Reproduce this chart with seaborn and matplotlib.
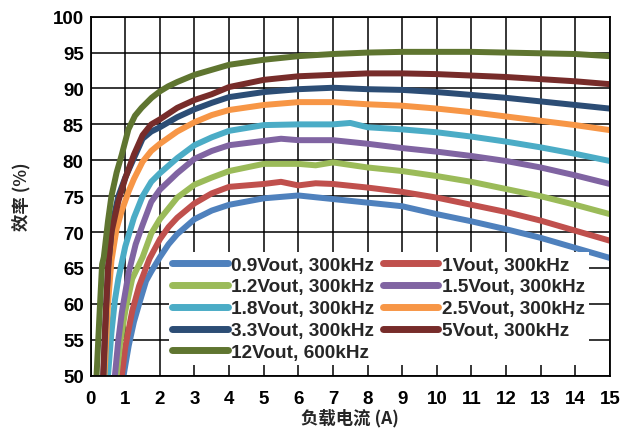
import numpy as np
import pandas as pd
import matplotlib
matplotlib.use("Agg")
import matplotlib.pyplot as plt
import seaborn as sns

# Efficiency (%) vs. load current (A) for each output setting
series_names = ["0.9Vout, 300kHz", "1Vout, 300kHz", "1.2Vout, 300kHz", "1.5Vout, 300kHz",
                "1.8Vout, 300kHz", "2.5Vout, 300kHz", "3.3Vout, 300kHz", "5Vout, 300kHz",
                "12Vout, 600kHz"]

x_09 = [0.95, 1.1, 1.25, 1.4, 1.6, 1.75, 2, 2.25, 2.5, 3, 3.5, 4, 5, 6, 7, 8, 9, 10, 11, 12, 13, 14, 15]
y_09 = [50, 54.2, 57.5, 60, 63.2, 64.5, 66.5, 68.3, 69.7, 71.8, 73, 73.8, 74.7, 75.1, 74.6, 74.1,
        73.6, 72.5, 71.5, 70.4, 69.2, 67.8, 66.4]

x_10 = [0.9, 1.0, 1.2, 1.4, 1.7, 2, 2.25, 2.5, 3, 3.5, 4, 5, 5.5, 6, 6.5, 7, 8, 9, 10, 11, 12, 13, 14, 15]
y_10 = [50, 54, 59, 62.5, 66.3, 69, 70.7, 72, 74, 75.4, 76.3, 76.7, 77.0, 76.5, 76.8, 76.7, 76.2,
        75.6, 74.8, 73.8, 72.8, 71.6, 70.2, 68.8]

x_12 = [0.75, 0.85, 1.0, 1.2, 1.5, 1.75, 2, 2.25, 2.5, 3, 3.5, 4, 5, 6, 6.5, 7, 8, 9, 10, 11, 12, 13, 14, 15]
y_12 = [50, 54.5, 59, 63.5, 66.5, 69.8, 71.8, 73.3, 74.8, 76.6, 77.6, 78.5, 79.5, 79.5, 79.3, 79.7,
        79.0, 78.5, 77.8, 77.0, 76.0, 75.0, 73.8, 72.5]

x_15 = [0.7, 0.8, 0.9, 1.1, 1.3, 1.5, 1.75, 2, 2.5, 3, 3.5, 4, 5, 5.5, 6, 7, 8, 9, 10, 11, 12, 13, 14, 15]
y_15 = [50, 55, 58.8, 64.4, 68.3, 71, 74.2, 75.9, 78.2, 80.2, 81.3, 82.1, 82.7, 83.0, 82.8, 82.8,
        82.3, 81.7, 81.2, 80.6, 79.9, 79.0, 77.9, 76.7]

x_18 = [0.5, 0.6, 0.7, 0.8, 1.0, 1.25, 1.5, 1.75, 2, 2.5, 3, 3.5, 4, 5, 6, 7, 7.5, 8, 9, 10, 11, 12, 13, 14, 15]
y_18 = [50, 56, 60.5, 63.5, 68, 72, 75, 77.0, 78.2, 80.3, 82.1, 83.2, 84.1, 84.9, 85.0, 85.0, 85.2,
        84.6, 84.3, 83.9, 83.3, 82.6, 81.8, 80.9, 79.9]

x_25 = [0.4, 0.5, 0.6, 0.75, 0.9, 1.1, 1.25, 1.5, 1.75, 2, 2.5, 3, 3.5, 4, 5, 6, 7, 8, 9, 10, 11, 12, 13, 14, 15]
y_25 = [50, 60, 66, 70.5, 73, 75.7, 77.4, 79.8, 81.3, 82.3, 84, 85.3, 86.3, 87, 87.7, 88.1, 88.1,
        87.8, 87.6, 87.2, 86.7, 86.1, 85.5, 84.9, 84.2]

x_33 = [0.37, 0.45, 0.52, 0.62, 0.8, 1.0, 1.25, 1.5, 1.75, 2, 2.5, 3, 3.5, 4, 5, 6, 7, 8, 9, 10, 11, 12, 13, 14, 15]
y_33 = [50, 60, 66, 71, 75, 77.6, 80.3, 83, 84, 84.6, 86, 87.1, 88, 88.8, 89.5, 89.9, 90.1, 89.9,
        89.8, 89.5, 89.1, 88.7, 88.2, 87.7, 87.2]

x_50 = [0.36, 0.42, 0.5, 0.6, 0.8, 1.0, 1.25, 1.5, 1.75, 2, 2.5, 3, 3.5, 4, 5, 6, 7, 8, 9, 10, 11, 12, 13, 14, 15]
y_50 = [50, 57, 65, 70, 74.3, 77.5, 80.8, 83.5, 85, 85.7, 87.3, 88.4, 89.2, 90.2, 91.2, 91.7, 91.9,
        92.1, 92.1, 92.0, 91.8, 91.6, 91.3, 91.0, 90.6]

x_120 = [0.17, 0.25, 0.33, 0.38, 0.5, 0.6, 0.75, 0.9, 1.09, 1.28, 1.47, 1.76, 2, 2.24, 2.5, 3, 4, 5,
         6, 7, 8, 9, 10, 11, 12, 13, 14, 15]
y_120 = [50, 58, 65.5, 66.5, 71.5, 75, 78.3, 80.8, 84.3, 86.2, 87.3, 88.7, 89.6, 90.3, 90.9, 91.9,
         93.3, 94.0, 94.5, 94.8, 95.0, 95.1, 95.1, 95.1, 95.0, 94.9, 94.8, 94.5]

xs = [x_09, x_10, x_12, x_15, x_18, x_25, x_33, x_50, x_120]
ys = [y_09, y_10, y_12, y_15, y_18, y_25, y_33, y_50, y_120]

colors = ["#4F81BD", "#C0504D", "#9BBB59", "#8064A2", "#4BACC6",
          "#F79646", "#2C4D75", "#772C2A", "#5F7530"]

x_ticks = list(range(0, 16))
y_ticks = list(range(50, 101, 5))

df = pd.concat(
    [pd.DataFrame({"load": x, "eff": y, "series": name}) for name, x, y in zip(series_names, xs, ys)],
    ignore_index=True)

sns.set_theme(style="white")
plt.rcParams["font.family"] = ["Liberation Sans", "Noto Sans CJK SC", "DejaVu Sans"]

fig = plt.figure(figsize=(6.21, 4.31), dpi=100)
ax = fig.add_axes([0.146, 0.126, 0.836, 0.833])

sns.lineplot(data=df, x="load", y="eff", hue="series", hue_order=series_names,
             palette=colors, estimator=None, sort=False, linewidth=4.3,
             legend=False, ax=ax, solid_capstyle="round", solid_joinstyle="round")

ax.set_xlim(0, 15)
ax.set_ylim(50, 100)
ax.set_xticks(x_ticks)
ax.set_yticks(y_ticks)
ax.grid(True, color="black", linewidth=1.1)
ax.set_axisbelow(True)
for sp in ax.spines.values():
    sp.set_color("black")
    sp.set_linewidth(1.3)
ax.tick_params(axis="x", length=0, pad=10, labelsize=13.5, colors="black")
ax.tick_params(axis="y", length=0, pad=5, labelsize=13.5, colors="black")
for lab in ax.get_xticklabels() + ax.get_yticklabels():
    lab.set_fontweight("bold")

ax.set_xlabel("负载电流 (A)", fontsize=12.5, fontweight="bold",
              family=["Noto Sans CJK SC", "Liberation Sans"], labelpad=1)
ax.set_ylabel("效率 (%)", fontsize=12.5, fontweight="bold",
              family=["Noto Sans CJK SC", "Liberation Sans"], labelpad=16)

# Legend in two columns, filled column-wise
order = [0, 2, 4, 6, 8, 1, 3, 5, 7]
handles = [plt.Line2D([], [], color=colors[i], linewidth=5, solid_capstyle="round") for i in order]
labels = [series_names[i] for i in order]
leg = ax.legend(handles, labels, ncol=2, loc="lower left", bbox_to_anchor=(0.15, 0.03),
                frameon=True, fancybox=False, framealpha=1.0, edgecolor="white",
                prop={"weight": "bold", "size": 13.7}, handlelength=2.9, handletextpad=0.2,
                columnspacing=0.45, labelspacing=0.24, borderpad=0.2, borderaxespad=0)
leg.get_frame().set_linewidth(0)

fig.savefig("out.png", dpi=100)
